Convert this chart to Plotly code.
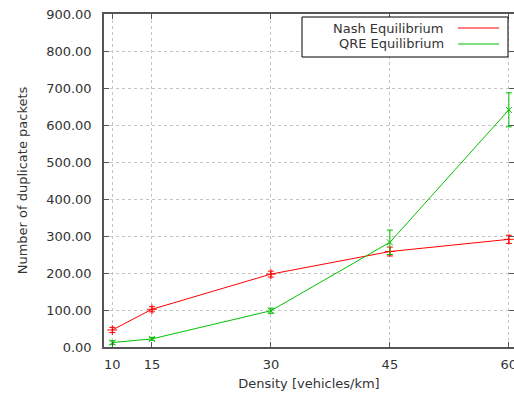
import plotly.graph_objects as go

density = [10, 15, 30, 45, 60]
nash = [46, 102, 197, 258, 291]
nash_err = [7, 7, 8, 12, 11]
qre = [12, 22, 98, 283, 641]
qre_err = [5, 4, 7, 33, 46]
y_ticks = [0, 100, 200, 300, 400, 500, 600, 700, 800, 900]

RED = "#ff0000"
GREEN = "#00c000"
FONT = "DejaVu Sans"

fig = go.Figure()
fig.add_trace(go.Scatter(
    x=density, y=nash, mode="lines+markers", name="Nash Equilibrium",
    line=dict(color=RED, width=1),
    marker=dict(symbol="cross-thin", size=7, line=dict(color=RED, width=1)),
    error_y=dict(type="data", array=nash_err, color=RED, thickness=1, width=3),
    showlegend=False, cliponaxis=False,
))
fig.add_trace(go.Scatter(
    x=density, y=qre, mode="lines+markers", name="QRE Equilibrium",
    line=dict(color=GREEN, width=1),
    marker=dict(symbol="x-thin", size=6, line=dict(color=GREEN, width=1)),
    error_y=dict(type="data", array=qre_err, color=GREEN, thickness=1, width=3),
    showlegend=False, cliponaxis=False,
))

# legend drawn gnuplot-style (text right-aligned, sample on right)
px0, px1, py0, py1 = 104, 514, 14, 347
def px(x):
    return (x - px0) / (px1 - px0)
def py(y):
    return (py1 - y) / (py1 - py0)

fig.add_shape(type="rect", xref="paper", yref="paper",
              x0=px(302), x1=px(508), y0=py(57), y1=py(17),
              line=dict(color="#000000", width=1), fillcolor="white", layer="above")
for label, color, yy in [("Nash Equilibrium", RED, 28), ("QRE Equilibrium", GREEN, 44)]:
    fig.add_annotation(text=label, xref="paper", yref="paper", x=px(446), y=py(yy),
                       xanchor="right", yanchor="middle", showarrow=False,
                       font=dict(family=FONT, size=13, color="#333"))
    fig.add_shape(type="line", xref="paper", yref="paper", x0=px(458), x1=px(499),
                  y0=py(yy), y1=py(yy), line=dict(color=color, width=1), layer="above")

axis_common = dict(
    showline=True, linecolor="#555", linewidth=1.5, mirror="ticks",
    ticks="inside", ticklen=5, tickcolor="#555",
    showgrid=True, gridcolor="#c4c4c4", griddash="dot", gridwidth=1,
    zeroline=False, automargin=False, ticklabeloverflow="allow",
    tickfont=dict(family=FONT, size=13, color="#333"),
)
fig.update_xaxes(range=[8.95, 60.65], tickvals=density, ticklabelstandoff=5, **axis_common,
                 title=dict(text="Density [vehicles/km]", standoff=8,
                            font=dict(family=FONT, size=13, color="#333")))
fig.update_yaxes(range=[0, 900], tickvals=y_ticks, tickformat=".2f", ticklabelstandoff=8,
                 **axis_common,
                 title=dict(text="Number of duplicate packets", standoff=16,
                            font=dict(family=FONT, size=13, color="#333")))
fig.update_layout(
    width=514, height=396, margin=dict(l=104, r=0, t=14, b=49),
    plot_bgcolor="white", paper_bgcolor="white",
    font=dict(family=FONT, size=13, color="#333"),
)
fig.write_html("out.html", config={"displayModeBar": False},
               post_script="document.body.style.margin='0';document.body.style.overflow='hidden';")
